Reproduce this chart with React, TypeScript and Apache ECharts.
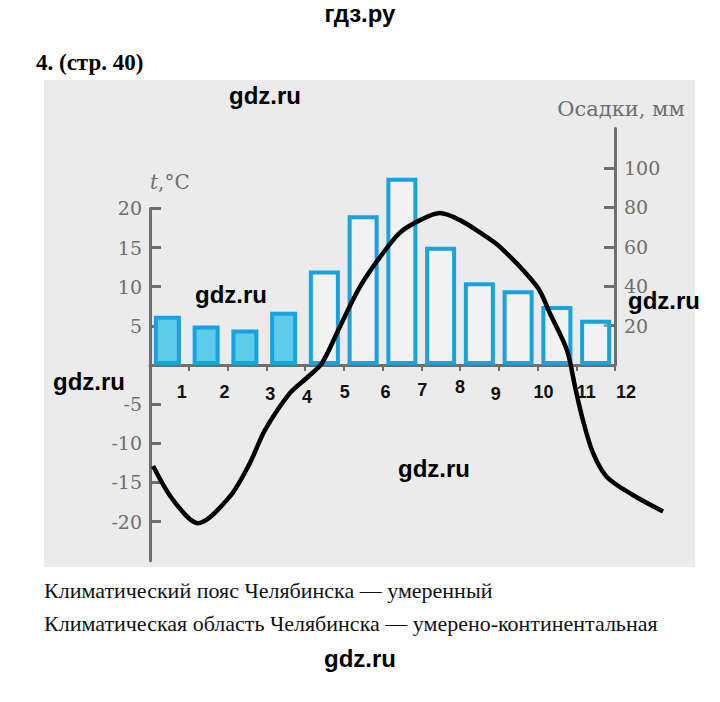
import React, { useEffect, useRef } from "react";
import * as echarts from "echarts";

// ---- data ----
const months = ["1", "2", "3", "4", "5", "6", "7", "8", "9", "10", "11", "12"];
const precipitationMm = [25, 20, 18, 27, 48, 76, 95, 60, 42, 38, 30, 23];
const filledMonthCount = 4; // months 1-4 drawn with a filled bar

// temperature curve: position in months (0 = left axis), value in °C
const tempCurveMonth = [0.08, 0.59, 1.24, 2.06, 2.58, 2.97, 3.61, 4.08, 4.44, 4.9, 5.42, 5.94, 6.45, 6.97, 7.48, 8.0, 8.52, 9.03, 9.99, 10.32, 10.76, 10.97, 11.17, 11.43, 11.79, 12.46, 13.24];
const tempCurveC = [-12.9, -17.2, -20.2, -16.8, -12.5, -8.3, -3.6, -1.5, 0.25, 4.9, 10.0, 13.8, 16.9, 18.5, 19.4, 18.5, 16.9, 15.1, 10.0, 6.6, 1.9, -2.8, -7.0, -11.2, -14.3, -16.6, -18.7];

const tempTicks = [-20, -15, -10, -5, 5, 10, 15, 20];
const precipTicks = [20, 40, 60, 80, 100];

const monthLabelDx = [-7, -3, 4, 2, 1, 3, 1, 0, -3, 6, 10, 11];
const monthLabelDy = [5, 5, 7, 10, 5, 5, 3, 0, 7, 5, 5, 5];

const AXIS = "#6e6e6e";
const BLUE = "#17a2e0";

// layout (pixels)
const PLOT_LEFT = 150;
const PLOT_WIDTH = 465; // 12 months
const MONTH_PX = PLOT_WIDTH / 12;
const LINE_X_MAX = 13.4; // curve runs past the right axis

export default function App() {
  const ref = useRef<HTMLDivElement>(null);
  useEffect(() => {
    if (!ref.current) return;
    const chart = echarts.init(ref.current, null, { renderer: "svg" });

    const rich: Record<string, any> = {};
    months.forEach((m, i) => {
      const dx = monthLabelDx[i];
      rich["m" + m] = {
        fontFamily: "Liberation Sans",
        fontWeight: "bold",
        fontSize: 18,
        color: "#111",
        padding: [monthLabelDy[i], dx < 0 ? -2 * dx : 0, 0, dx > 0 ? 2 * dx : 0],
      };
    });

    const axisText = { color: AXIS, fontFamily: "DejaVu Serif", fontSize: 19 };
    const wm = (x: number, y: number) => ({
      type: "text",
      x,
      y,
      z: 100,
      style: {
        text: "gdz.ru",
        font: "bold 24px 'Liberation Sans'",
        fill: "#000",
        textAlign: "center",
        textVerticalAlign: "middle",
      },
    });

    chart.setOption({
      animation: false,
      backgroundColor: "#ffffff",
      grid: [
        { left: PLOT_LEFT, top: 128.6, width: PLOT_WIDTH, height: 236.4, outerBoundsMode: "none" },
        { left: PLOT_LEFT, top: 208.4, width: MONTH_PX * LINE_X_MAX, height: 352.35, outerBoundsMode: "none" },
        { left: PLOT_LEFT, top: 128.6, width: PLOT_WIDTH, height: 236.4, outerBoundsMode: "none" },
      ],
      xAxis: [
        {
          type: "category",
          gridIndex: 0,
          data: months,
          boundaryGap: true,
          axisLine: { lineStyle: { color: AXIS, width: 3 } },
          axisTick: { show: true, interval: 0, length: 6, lineStyle: { color: AXIS, width: 2 } },
          axisLabel: { show: false },
          splitLine: { show: false },
        },
        {
          type: "value",
          gridIndex: 1,
          min: 0,
          max: LINE_X_MAX,
          show: false,
        },
        {
          type: "value",
          gridIndex: 2,
          min: 0,
          max: 12,
          interval: 1,
          axisLine: { show: false },
          axisTick: { show: false },
          splitLine: { show: false },
          axisLabel: {
            margin: 13,
            showMinLabel: true,
            showMaxLabel: true,
            formatter: (v: number) => (v >= 1 && v <= 12 ? `{m${v}|${v}}` : ""),
            rich,
          },
        },
      ],
      yAxis: [
        {
          type: "value",
          gridIndex: 0,
          position: "right",
          min: 0,
          max: 120,
          interval: 20,
          name: "Осадки, мм",
          nameLocation: "end",
          nameGap: 9,
          nameTextStyle: { ...axisText, fontSize: 21, padding: [0, 0, 0, 12] },
          axisLine: { show: true, lineStyle: { color: AXIS, width: 3 } },
          axisTick: { show: true, inside: true, length: 11, lineStyle: { color: AXIS, width: 3 }, customValues: precipTicks },
          axisLabel: { ...axisText, margin: 9, customValues: precipTicks },
          splitLine: { show: false },
        },
        {
          type: "value",
          gridIndex: 1,
          position: "left",
          min: -25,
          max: 20,
          interval: 5,
          name: "{i|t},°C",
          nameLocation: "end",
          nameGap: 16,
          nameTextStyle: {
            ...axisText,
            fontSize: 20,
            align: "left",
            rich: { i: { ...axisText, fontSize: 20, fontStyle: "italic" } },
          },
          axisLine: { show: true, lineStyle: { color: AXIS, width: 3 } },
          axisTick: { show: true, inside: true, length: 11, lineStyle: { color: AXIS, width: 3 }, customValues: tempTicks },
          axisLabel: { ...axisText, margin: 8, customValues: tempTicks },
          splitLine: { show: false },
        },
        {
          type: "value",
          gridIndex: 2,
          min: 0,
          max: 120,
          show: false,
        },
      ],
      series: [
        {
          type: "bar",
          xAxisIndex: 0,
          yAxisIndex: 0,
          barWidth: 27,
          barGap: "-100%",
          data: precipitationMm.map((v, i) => (i < filledMonthCount ? v : null)),
          itemStyle: { color: "#5ecbea", borderColor: BLUE, borderWidth: 4 },
        },
        {
          type: "bar",
          xAxisIndex: 0,
          yAxisIndex: 0,
          barWidth: 31,
          barGap: "-100%",
          data: precipitationMm.map((v, i) => (i >= filledMonthCount ? v : null)),
          itemStyle: { color: "rgba(255,255,255,0.35)", borderColor: BLUE, borderWidth: 4 },
        },
        {
          type: "line",
          xAxisIndex: 1,
          yAxisIndex: 1,
          data: tempCurveMonth.map((m, i) => [m, tempCurveC[i]]),
          smooth: 0.3,
          symbol: "none",
          clip: false,
          z: 5,
          lineStyle: { color: "#000", width: 4.5 },
        },
      ],
      graphic: [
        { type: "rect", z: -10, shape: { x: 44, y: 80, width: 651, height: 487 }, style: { fill: "#ebebeb" } },
        {
          type: "text",
          x: 360,
          y: 13,
          z: 100,
          style: { text: "гдз.ру", font: "bold 24px 'Liberation Sans'", fill: "#000", textAlign: "center", textVerticalAlign: "middle" },
        },
        {
          type: "text",
          x: 36,
          y: 62,
          z: 100,
          style: { text: "4. (стр. 40)", font: "bold 23px 'Liberation Serif'", fill: "#000", textAlign: "left", textVerticalAlign: "middle" },
        },
        {
          type: "text",
          x: 44,
          y: 590,
          z: 100,
          style: { text: "Климатический пояс Челябинска — умеренный", font: "22px 'Liberation Serif'", fill: "#111", textAlign: "left", textVerticalAlign: "middle" },
        },
        {
          type: "text",
          x: 44,
          y: 623,
          z: 100,
          style: { text: "Климатическая область Челябинска — умерено-континентальная", font: "22px 'Liberation Serif'", fill: "#111", textAlign: "left", textVerticalAlign: "middle" },
        },
        wm(265, 95),
        wm(231, 294),
        wm(89, 381),
        wm(434, 468),
        wm(664, 300),
        wm(360, 658),
      ],
    });
    return () => chart.dispose();
  }, []);
  return <div ref={ref} style={{ position: "fixed", left: 0, top: 0, width: 720, height: 702 }} />;
}
